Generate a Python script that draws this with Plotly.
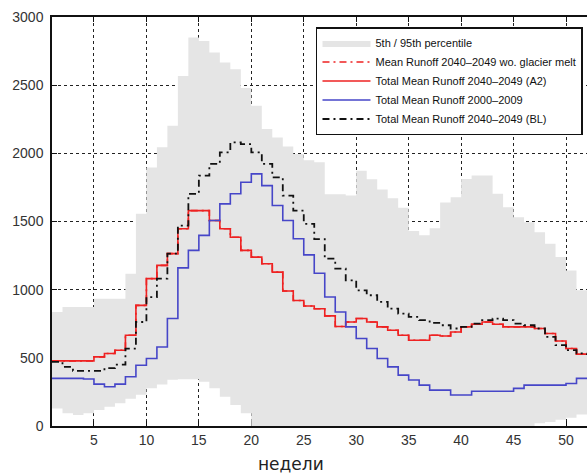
import plotly.graph_objects as go

# ---- data (weekly values, weeks 1..52) ----
weeks = list(range(1, 53))

p95 = [836, 873, 873, 873, 934, 934, 934, 1117, 1556, 1897,
       2044, 2202, 2568, 2849, 2824, 2739, 2666, 2617, 2480, 2349,
       2178, 2117, 2050, 1995, 1950, 1934, 1700, 1700, 1690, 1873,
       1810, 1735, 1670, 1600, 1430, 1400, 1450, 1640, 1678, 1812,
       1837, 1837, 1703, 1605, 1532, 1495, 1422, 1337, 1239, 1141,
       995, 995]

p05 = [129, 93, 80, 93, 117, 142, 166, 200, 230, 276,
       305, 340, 342, 342, 324, 276, 215, 154, 93, 0,
       0, 0, 0, 0, 0, 0, 0, 0, 0, 0,
       0, 0, 0, 0, 0, 0, 0, 0, 0, 0,
       0, 0, 0, 0, 0, 0, 20, 30, 45, 60,
       85, 90]

no_glacier = [478, 478, 478, 478, 507, 532, 556, 666, 885, 1081,
              1178, 1264, 1447, 1580, 1580, 1507, 1447, 1385, 1288, 1239,
              1190, 1129, 990, 920, 880, 860, 808, 730, 763, 788,
              763, 727, 702, 666, 629, 629, 666, 660, 690, 727,
              746, 763, 746, 727, 727, 727, 715, 678, 624, 568,
              527, 520]

a2 = [478, 478, 478, 478, 507, 532, 556, 666, 885, 1081,
      1178, 1264, 1447, 1580, 1580, 1507, 1447, 1385, 1288, 1239,
      1190, 1129, 990, 920, 880, 860, 808, 730, 763, 788,
      763, 727, 702, 666, 629, 629, 666, 660, 690, 727,
      746, 763, 746, 727, 727, 727, 715, 678, 624, 568,
      527, 520]

ref_2000 = [349, 349, 349, 345, 307, 288, 307, 361, 446, 495,
            580, 788, 1160, 1288, 1398, 1507, 1629, 1703, 1788, 1849,
            1763, 1617, 1507, 1373, 1255, 1120, 946, 836, 727, 642,
            568, 495, 434, 373, 337, 300, 263, 263, 227, 227,
            255, 255, 255, 255, 276, 300, 300, 300, 300, 312,
            349, 349]

bl = [471, 434, 405, 405, 405, 425, 450, 568, 763, 946,
      1081, 1264, 1470, 1703, 1837, 1922, 2007, 2080, 2068, 2007,
      1922, 1824, 1690, 1580, 1483, 1370, 1227, 1154, 1068, 995,
      959, 910, 861, 824, 800, 776, 756, 739, 715, 727,
      751, 776, 788, 776, 751, 739, 715, 654, 593, 556,
      532, 520]

names = ["5th / 95th percentile",
         "Mean Runoff 2040\u20132049 wo. glacier melt",
         "Total Mean Runoff 2040\u20132049 (A2)",
         "Total Mean Runoff 2000\u20132009",
         "Total Mean Runoff 2040\u20132049 (BL)"]

x_title = "недели"
x_ticks = list(range(5, 55, 5))
y_ticks = list(range(0, 3500, 500))

# ---- figure ----
fig = go.Figure()
fig.add_trace(go.Scatter(x=weeks, y=p05, mode="lines",
                         line=dict(width=0, shape="hv"),
                         showlegend=False, hoverinfo="skip"))
fig.add_trace(go.Scatter(x=weeks, y=p95, mode="lines",
                         line=dict(width=0, shape="hv"),
                         fill="tonexty", fillcolor="#e5e5e5",
                         name=names[0]))
fig.add_trace(go.Scatter(x=weeks, y=no_glacier, mode="lines",
                         line=dict(color="#ee2222", width=1.6, shape="hv",
                                   dash="7px,4px,2px,4px"),
                         name=names[1]))
fig.add_trace(go.Scatter(x=weeks, y=a2, mode="lines",
                         line=dict(color="#ee2222", width=1.6, shape="hv"),
                         name=names[2]))
fig.add_trace(go.Scatter(x=weeks, y=ref_2000, mode="lines",
                         line=dict(color="#4646c8", width=1.6, shape="hv"),
                         name=names[3]))
fig.add_trace(go.Scatter(x=weeks, y=bl, mode="lines",
                         line=dict(color="#111111", width=1.8, shape="hv",
                                   dash="7px,4px,2px,4px"),
                         name=names[4]))

axis_common = dict(
    showline=True, linecolor="#111", linewidth=1.5,
    ticks="inside", ticklen=5, tickwidth=1, tickcolor="#111",
    showgrid=True, gridcolor="#222", gridwidth=1, griddash="dot",
    zeroline=False, layer="below traces",
    tickfont=dict(family="Liberation Sans, Arial, sans-serif", size=14, color="#333"),
)

fig.update_layout(
    width=587, height=476,
    margin=dict(l=52, r=0, t=17, b=50),
    paper_bgcolor="white", plot_bgcolor="white",
    xaxis=dict(range=[1, 52], tickvals=x_ticks, mirror="ticks", **axis_common),
    yaxis=dict(range=[0, 3000], tickvals=y_ticks, ticklabelstandoff=4, **axis_common),
    legend=dict(x=0.9925, xanchor="right", y=0.9755, yanchor="top",
                bgcolor="white", bordercolor="#111", borderwidth=1.5,
                font=dict(family="Liberation Sans, Arial, sans-serif", size=11, color="#111"),
                itemwidth=48, tracegroupgap=0, traceorder="normal"),
    showlegend=True,
    annotations=[dict(text=x_title, xref="paper", yref="paper",
                      x=0.4467, y=-0.094, xanchor="center", yanchor="middle",
                      showarrow=False,
                      font=dict(family="DejaVu Sans, sans-serif", size=17, color="#222"))],
)

fig.write_html("out.html")
